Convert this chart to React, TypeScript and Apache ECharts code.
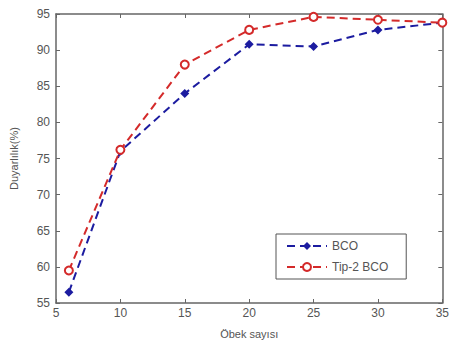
import React, { useEffect, useRef } from "react";
import * as echarts from "echarts";

const xValues = [6, 10, 15, 20, 25, 30, 35];
const bco = [56.5, 76.0, 84.0, 90.8, 90.5, 92.8, 93.8];
const tip2 = [59.5, 76.2, 88.0, 92.8, 94.6, 94.2, 93.8];
const seriesNames = ["BCO", "Tip-2 BCO"];
const xTitle = "Öbek sayısı";
const yTitle = "Duyarlılık(%)";

export default function App() {
  const ref = useRef<HTMLDivElement>(null);
  useEffect(() => {
    const chart = echarts.init(ref.current!, null, { renderer: "svg" });
    const font = "Liberation Sans, Arial, sans-serif";
    const textColor = "#555";
    const axisBase = {
      type: "value" as const,
      axisLine: { show: true, lineStyle: { color: "#666", width: 1.5 } },
      axisTick: { show: true, inside: true, length: 4, lineStyle: { color: "#666" } },
      splitLine: { show: false },
    };
    chart.setOption({
      animation: false,
      backgroundColor: "#fff",
      grid: { left: 53, right: 6, top: 14, bottom: 40, containLabel: false },
      legend: {
        show: true,
        data: seriesNames,
        orient: "vertical",
        left: 276,
        top: 234,
        itemWidth: 40,
        itemHeight: 10,
        itemGap: 9,
        padding: [6, 18, 6, 10],
        borderColor: "#555",
        borderWidth: 1,
        backgroundColor: "#fff",
        textStyle: { color: textColor, fontFamily: font, fontSize: 12 },
      },
      xAxis: [
        {
          ...axisBase,
          min: 5,
          max: 35,
          interval: 5,
          position: "bottom",
          name: xTitle,
          nameLocation: "middle",
          nameGap: 25,
          nameTextStyle: { color: textColor, fontFamily: font, fontSize: 11 },
          axisLabel: { color: textColor, fontFamily: font, fontSize: 12, margin: 4 },
        },
        {
          ...axisBase,
          min: 5,
          max: 35,
          interval: 5,
          position: "top",
          axisLabel: { show: false },
        },
      ],
      yAxis: [
        {
          ...axisBase,
          min: 55,
          max: 95,
          interval: 5,
          position: "left",
          name: yTitle,
          nameLocation: "middle",
          nameGap: 37,
          nameTextStyle: { color: textColor, fontFamily: font, fontSize: 11 },
          axisLabel: { color: textColor, fontFamily: font, fontSize: 12, margin: 6 },
        },
        {
          ...axisBase,
          min: 55,
          max: 95,
          interval: 5,
          position: "right",
          axisLabel: { show: false },
        },
      ],
      series: [
        {
          name: seriesNames[0],
          type: "line",
          data: xValues.map((x, i) => [x, bco[i]]),
          symbol: "diamond",
          symbolSize: 9,
          lineStyle: { color: "#1c1ca0", width: 2, type: [8, 5] },
          itemStyle: { color: "#1c1ca0" },
        },
        {
          name: seriesNames[1],
          type: "line",
          data: xValues.map((x, i) => [x, tip2[i]]),
          symbol: "emptyCircle",
          symbolSize: 8,
          lineStyle: { color: "#d42a2a", width: 2, type: [8, 5] },
          itemStyle: { color: "#d42a2a", borderWidth: 2 },
        },
      ],
    });
    return () => chart.dispose();
  }, []);
  return (
    <div
      ref={ref}
      style={{ position: "absolute", left: 0, top: 0, width: 452, height: 344 }}
    />
  );
}
